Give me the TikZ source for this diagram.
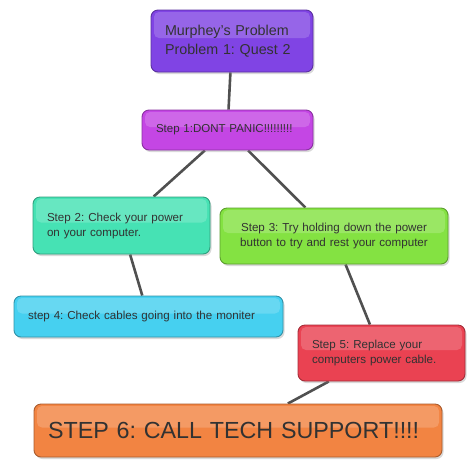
\documentclass[tikz,border=0pt]{standalone}
\usepackage{fontspec}
\setmainfont{Liberation Sans}
\usetikzlibrary{shadows,backgrounds}
\definecolor{cA}{RGB}{128,68,228}
\definecolor{cB}{RGB}{196,70,228}
\definecolor{cC}{RGB}{70,226,180}
\definecolor{cD}{RGB}{132,226,66}
\definecolor{cE}{RGB}{70,208,240}
\definecolor{cF}{RGB}{234,66,82}
\definecolor{cG}{RGB}{242,132,66}
\definecolor{txt}{RGB}{50,50,50}
\definecolor{lnk}{RGB}{80,80,80}
\frenchspacing
\tikzset{
  gbox/.style={rounded corners=7pt, draw=#1!70!black, fill=#1, line width=0.9pt,
    drop shadow={shadow xshift=1.5pt, shadow yshift=-2pt, opacity=0.3},
    text=txt, align=left, inner xsep=14pt, inner ysep=0pt,
    path picture={\fill[white,opacity=0.18,rounded corners=5pt]
      ([xshift=3pt,yshift=-2pt]path picture bounding box.north west) rectangle
      ([xshift=-3pt,yshift=3pt]path picture bounding box.east);}},
  link/.style={draw=lnk, line width=2.6pt}
}
\begin{document}
\begin{tikzpicture}[x=1pt,y=1pt]
\useasboundingbox (0,0) rectangle (474,-467);
\node[gbox=cA, text width=134pt, minimum height=62pt, font=\fontsize{14.3}{18.5}\selectfont] (n0) at (232,-41) {Murphey's Problem\\Problem 1: Quest 2};
\node[gbox=cB, text width=143pt, minimum height=40pt, font=\fontsize{11.5}{13}\selectfont] (n1) at (227.5,-130) {Step 1:DONT PANIC!!!!!!!!!};
\node[gbox=cC, text width=149pt, minimum height=57pt, font=\fontsize{11.6}{15}\selectfont] (n2) at (121.5,-225.5) {Step 2: Check your power\\on your computer.};
\node[gbox=cD, text width=200pt, minimum height=56pt, align=center, font=\fontsize{11.6}{15}\selectfont] (n3) at (334,-236) {Step 3: Try holding down the power\\button to try and rest your computer};
\node[gbox=cE, text width=241pt, minimum height=41pt, font=\fontsize{11.6}{14}\selectfont] (n4) at (148.5,-316.5) {step 4: Check cables going into the moniter};
\node[gbox=cF, text width=139pt, minimum height=56pt, font=\fontsize{11.6}{15}\selectfont] (n5) at (381.5,-353) {Step 5: Replace your\\computers power cable.};
\node[gbox=cG, text width=380pt, minimum height=53pt, font=\fontsize{23.3}{27}\selectfont] (n6) at (238,-430.5) {STEP 6: CALL TECH SUPPORT!!!!};
\begin{pgfonlayer}{background}
\draw[link] (n0) -- (n1);
\draw[link] (n1) -- (n2);
\draw[link] (n1) -- (n3);
\draw[link] (n2) -- (n4);
\draw[link] (n3) -- (n5);
\draw[link] (n5) -- (n6);
\end{pgfonlayer}
\end{tikzpicture}
\end{document}
